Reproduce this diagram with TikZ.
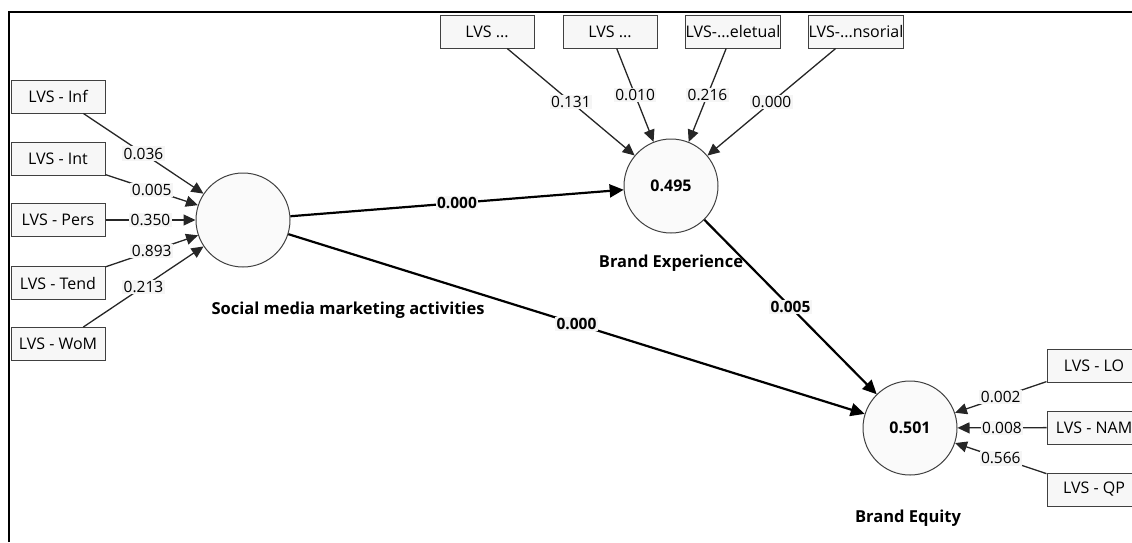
\documentclass[tikz,border=0pt]{standalone}
\usepackage{fontspec}
\setmainfont{Open Sans}
\usepackage{tikz}
\usetikzlibrary{arrows.meta}
\newcommand{\trunc}{...}

\begin{document}
\begin{tikzpicture}[x=1pt, y=-1pt,
		txt/.style={font=\fontsize{16}{16}\selectfont},
		ind/.style={txt, draw=black!75, fill=black!3, line width=1pt, minimum width=94pt, minimum height=33pt, inner sep=0pt},
		lat/.style={circle, draw=black!75, fill=black!2, line width=1pt, minimum size=94pt, inner sep=0pt, font=\bfseries\fontsize{16}{16}\selectfont},
		title/.style={font=\bfseries\fontsize{16.5}{16.5}\selectfont},
		wt/.style={font=\fontsize{15.5}{15.5}\selectfont, fill=black!4, inner sep=1.5pt},
		swt/.style={wt, font=\bfseries\fontsize{15.5}{15.5}\selectfont},
		iarrow/.style={draw=black!85, line width=1.3pt, -{Triangle[length=12pt, width=11pt]}},
		sarrow/.style={draw=black, line width=2.2pt, -{Triangle[length=14pt, width=13pt]}}]
	\useasboundingbox (0,0) rectangle (1132,542);
	\clip (0,0) rectangle (1132,542);
	\draw[line width=2pt] (9,542) -- (9,12) -- (1132,12);

	\node[lat] (smma) at (243,220) {};
	\node[lat] (bexp) at (671,186) {0.495};
	\node[lat] (beq) at (910,428) {0.501};
	\node[title] (smmat) at (348,310) {Social media marketing activities};
	\node[title] (bexpt) at (671,263) {Brand Experience};
	\node[title] (beqt) at (908,518) {Brand Equity};

	\foreach \n/\t/\y/\w in {inf/Inf/96.5/0.036, int/Int/159/0.005, pers/Pers/220/0.350, tend/Tend/283/0.893, wom/WoM/344/0.213}{
		\node[ind] (\n) at (58,\y) {LVS - \t};
		\draw[iarrow] (\n) -- node[wt]{\w} (smma);
	}
	\foreach \n/\t/\x/\w in {ex1/LVS \trunc/487/0.131, ex2/LVS \trunc/610/0.010, ex3/LVS-\trunc eletual/733/0.216, ex4/LVS-\trunc nsorial/856/0.000}{
		\node[ind] (\n) at (\x,31.5) {\t};
		\draw[iarrow] (\n) -- node[wt]{\w} (bexp);
	}
	\foreach \n/\t/\y/\w in {lo/LO/365.5/0.002, nam/NAM/427.5/0.008, qp/QP/489.5/0.566}{
		\node[ind] (\n) at (1094,\y) {LVS - \t};
		\draw[iarrow] (\n) -- node[wt]{\w} (beq);
	}

	\draw[sarrow] (smma) -- node[swt]{0.000} (bexp);
	\draw[sarrow] (smma) -- node[swt]{0.000} (beq);
	\draw[sarrow] (bexp) -- node[swt]{0.005} (beq);
\end{tikzpicture}
\end{document}
